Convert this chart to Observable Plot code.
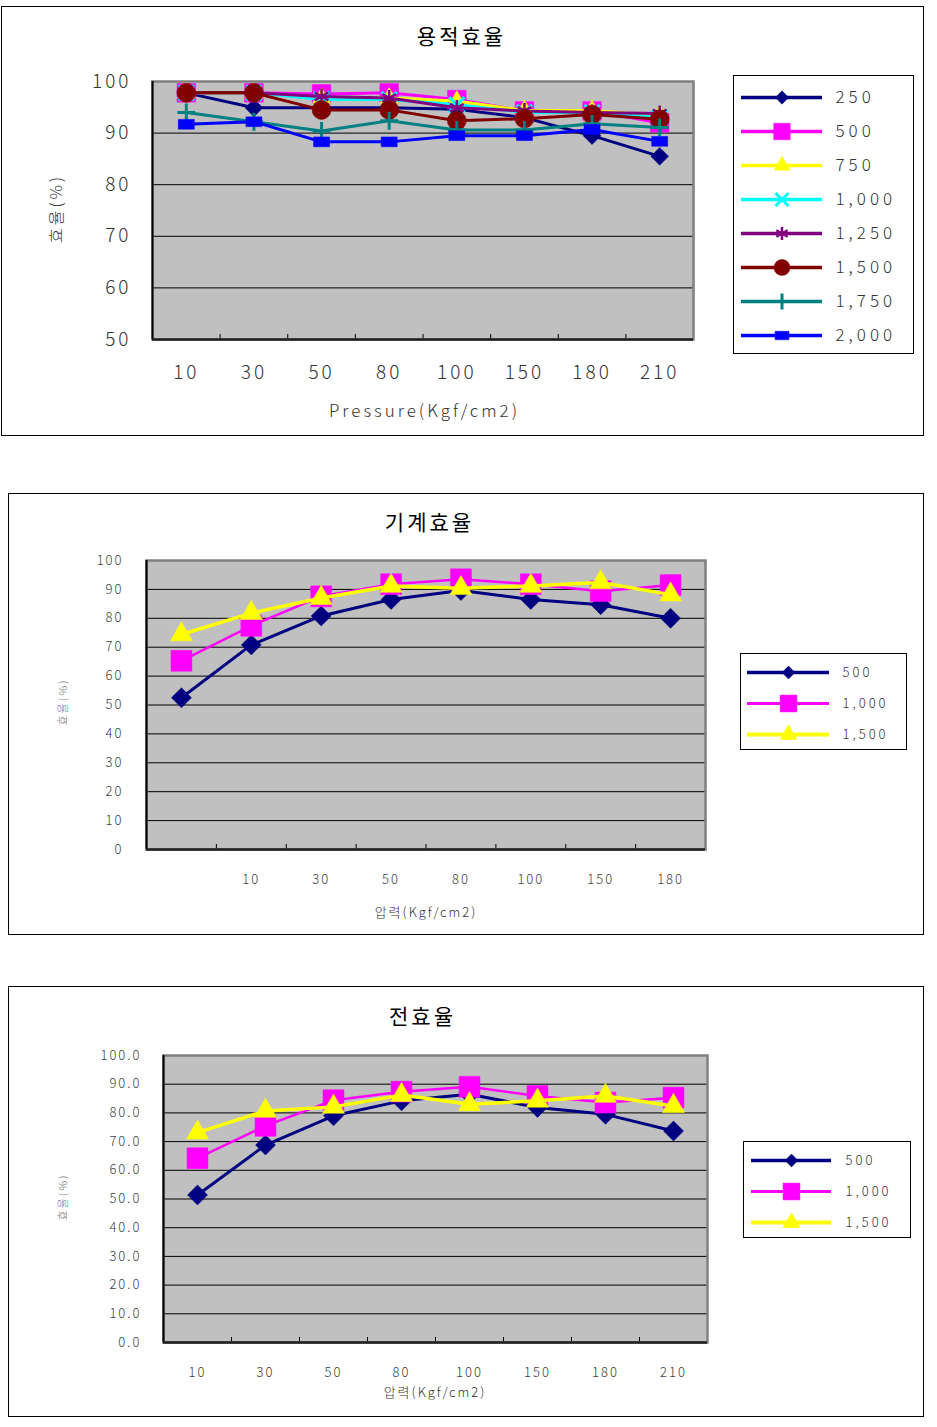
<!DOCTYPE html>
<html>
<head>
<meta charset="utf-8">
<script src="https://cdn.jsdelivr.net/npm/d3@7"></script>
<script src="https://cdn.jsdelivr.net/npm/@observablehq/plot@0.6"></script>
<style>
html,body{margin:0;padding:0;background:#fff;}
body{position:relative;width:937px;height:1427px;overflow:hidden;font-family:"Noto Sans CJK KR","Noto Sans",sans-serif;}
.panel{position:absolute;border:1px solid #000;box-sizing:border-box;}
.lbl{position:absolute;white-space:nowrap;line-height:1;transform:translate(-50%,-57%);font-weight:300;}
.legend{position:absolute;border:1px solid #000;box-sizing:border-box;background:#fff;}
.legend svg{display:block;}
</style>
</head>
<body>
<script>
// ---------------- DATA ----------------
// Chart 1 : 용적효율
const c1Title = "용적효율";
const c1Pressure = ["10", "30", "50", "80", "100", "150", "180", "210"];
const c1Series = ["250", "500", "750", "1,000", "1,250", "1,500", "1,750", "2,000"];
const c1_250  = [97.8, 94.9, 94.9, 94.9, 94.6, 93.0, 89.5, 85.5];
const c1_500  = [97.8, 97.8, 97.6, 97.8, 96.5, 94.3, 94.3, 92.0];
const c1_750  = [97.8, 97.8, 96.8, 96.8, 96.2, 94.4, 94.4, 93.4];
const c1_1000 = [97.8, 97.8, 96.5, 96.5, 95.5, 94.0, 94.0, 93.0];
const c1_1250 = [97.8, 97.8, 97.1, 96.8, 94.9, 94.3, 94.0, 93.8];
const c1_1500 = [97.8, 97.8, 94.5, 94.5, 92.4, 92.8, 93.6, 92.7];
const c1_1750 = [94.0, 92.2, 90.4, 92.4, 90.6, 90.6, 91.8, 91.1];
const c1_2000 = [91.7, 92.2, 88.3, 88.3, 89.5, 89.5, 90.7, 88.4];
const c1YTicks = [50, 60, 70, 80, 90, 100];

// Chart 2 : 기계효율
const c2Title = "기계효율";
const c2Pressure = ["", "10", "30", "50", "80", "100", "150", "180"];
const c2Series = ["500", "1,000", "1,500"];
const c2_500  = [52.5, 70.8, 80.8, 86.5, 89.6, 86.5, 84.7, 80.0];
const c2_1000 = [65.3, 77.4, 87.6, 91.8, 93.5, 91.8, 89.4, 91.5];
const c2_1500 = [74.4, 81.8, 87.0, 91.2, 90.4, 91.2, 92.4, 88.2];
const c2YTicks = [0, 10, 20, 30, 40, 50, 60, 70, 80, 90, 100];

// Chart 3 : 전효율
const c3Title = "전효율";
const c3Pressure = ["10", "30", "50", "80", "100", "150", "180", "210"];
const c3Series = ["500", "1,000", "1,500"];
const c3_500  = [51.4, 68.8, 79.0, 84.2, 86.5, 81.9, 79.5, 73.7];
const c3_1000 = [64.2, 75.5, 84.4, 87.4, 89.1, 85.9, 83.6, 85.3];
const c3_1500 = [73.1, 80.7, 82.1, 86.2, 83.0, 84.2, 85.9, 82.4];
const c3YTicks = [0, 10, 20, 30, 40, 50, 60, 70, 80, 90, 100];

const yLabelText = "효율(%)";
const x1LabelText = "Pressure(Kgf/cm2)";
const x2LabelText = "압력(Kgf/cm2)";

// ---------------- STYLES ----------------
const FONT = '"Noto Sans CJK KR","Noto Sans",sans-serif';
const rectSym = {
  draw(ctx, size) {
    const s = Math.sqrt(size), w = s * 0.62, h = s * 0.38;
    ctx.moveTo(-w, -h); ctx.lineTo(w, -h); ctx.lineTo(w, h); ctx.lineTo(-w, h); ctx.closePath();
  }
};
const c1Styles = [
  {color: "#000080", symbol: "diamond2", filled: true, r: 8, lr: 6, lw: 3},
  {color: "#ff00ff", symbol: "square", filled: true, r: 10.5, lr: 9.3, lw: 3},
  {color: "#ffff00", symbol: "triangle", filled: true, r: 6.7, lr: 6, lw: 3},
  {color: "#00ffff", symbol: "times", filled: false, r: 7, lr: 6, lw: 3, sw: 3},
  {color: "#800080", symbol: "asterisk", filled: false, r: 7.5, lr: 6.2, lw: 3, sw: 2.5},
  {color: "#800000", symbol: "circle", filled: true, r: 9.5, lr: 8, lw: 3},
  {color: "#008080", symbol: "plus", filled: false, r: 5.8, lr: 5.2, lw: 3, sw: 3},
  {color: "#0000ff", symbol: rectSym, filled: true, r: 7.3, lr: 6.3, lw: 3}
];
const c23Styles = [
  {color: "#000080", symbol: "diamond2", filled: true, r: 9, lr: 5.8, lw: 3},
  {color: "#ff00ff", symbol: "square", filled: true, r: 11.8, lr: 9.5, lw: 2.5},
  {color: "#ffff00", symbol: "triangle", filled: true, r: 8.2, lr: 6.3, lw: 3.5}
];

// ---------------- HELPERS ----------------
function place(el, left, top) {
  el.style.position = "absolute";
  el.style.left = left + "px";
  el.style.top = top + "px";
  document.body.appendChild(el);
}
function panel(left, top, width, height) {
  const d = document.createElement("div");
  d.className = "panel";
  d.style.width = width + "px";
  d.style.height = height + "px";
  place(d, left, top);
}
function label(text, cx, cy, size, spacing, color, rotate, weight) {
  const d = document.createElement("div");
  d.className = "lbl";
  d.textContent = text;
  d.style.left = cx + "px";
  d.style.top = cy + "px";
  d.style.fontSize = size + "px";
  d.style.letterSpacing = spacing + "px";
  d.style.paddingLeft = spacing + "px";
  d.style.color = color;
  if (weight) d.style.fontWeight = weight;
  if (rotate) d.style.transform = "translate(-50%,-50%) rotate(-90deg)";
  document.body.appendChild(d);
}
function dotOpts(st, r) {
  return st.filled
    ? {symbol: st.symbol, r, fill: st.color, stroke: st.color, strokeWidth: 0.5}
    : {symbol: st.symbol, r, fill: "none", stroke: st.color, strokeWidth: st.sw};
}

function lineChart(o) {
  const n = o.categories.length;
  const idx = d3.range(n);
  const seps = d3.range(n - 1).map(i => i + 0.5);
  const xDomain = [-0.5, n - 0.5];
  const rows = [];
  o.series.forEach((name, s) => o.values[s].forEach((v, i) => rows.push({name, i, v})));
  const plotH = o.height - o.marginTop - o.marginBottom;
  const marks = [
    Plot.frame({fill: "#c0c0c0"}),
    Plot.gridY({ticks: o.yTicks, stroke: "#000", strokeOpacity: 1, strokeWidth: 1}),
    Plot.ruleX(seps, {x: d => d, insetTop: plotH - 5, stroke: "#000", strokeWidth: 1}),
    Plot.frame({stroke: "#808080", strokeWidth: 2.5}),
    Plot.ruleX([xDomain[0]], {x: d => d, stroke: "#000", strokeWidth: 2}),
    Plot.ruleY([o.yDomain[0]], {y: d => d, stroke: "#202020", strokeWidth: 2.5}),
    Plot.axisY({ticks: o.yTicks, tickFormat: o.yFormat, tickSize: 0, tickPadding: o.yPad, fontSize: o.tickFont, label: null}),
    Plot.axisX({ticks: idx, tickFormat: i => o.categories[i], tickSize: 0, tickPadding: o.xPad, fontSize: o.tickFont, label: null})
  ];
  o.series.forEach((name, s) => {
    const st = o.styles[s];
    const sub = rows.filter(r => r.name === name);
    marks.push(Plot.line(sub, {x: "i", y: "v", stroke: st.color, strokeWidth: st.lw}));
    marks.push(Plot.dot(sub, {x: "i", y: "v", ...dotOpts(st, st.r)}));
  });
  const svg = Plot.plot({
    width: o.width, height: o.height,
    marginLeft: o.marginLeft, marginRight: o.marginRight,
    marginTop: o.marginTop, marginBottom: o.marginBottom,
    x: {domain: xDomain},
    y: {domain: o.yDomain},
    style: {fontFamily: FONT, fontSize: o.tickFont + "px", fontWeight: "300", letterSpacing: o.tickSpacing + "px", background: "transparent", color: o.tickColor, overflow: "visible"},
    marks
  });
  place(svg, o.left, o.top);
}

function legend(o) {
  const box = document.createElement("div");
  box.className = "legend";
  box.style.width = o.boxW + "px";
  box.style.height = o.boxH + "px";
  place(box, o.left, o.top);
  const marks = [];
  o.series.forEach((name, s) => {
    const st = o.styles[s];
    marks.push(Plot.ruleY([name], {y: d => d, x1: 0, x2: 1, stroke: st.color, strokeWidth: st.lw + 0.5}));
    marks.push(Plot.dot([name], {y: d => d, x: 0.5, ...dotOpts(st, st.lr)}));
  });
  marks.push(Plot.text(o.series, {y: d => d, x: 1, text: d => d, dx: o.dx, textAnchor: "start", fontSize: o.font, fill: "#333"}));
  const svg = Plot.plot({
    width: o.boxW - 2, height: o.boxH - 2,
    marginLeft: o.mL, marginRight: o.boxW - 2 - o.xEnd,
    marginTop: o.mT, marginBottom: o.mB,
    x: {domain: [0, 1], axis: null},
    y: {type: "point", domain: o.series, padding: 0, axis: null},
    style: {fontFamily: FONT, fontWeight: "300", letterSpacing: o.spacing + "px", background: "transparent", overflow: "visible"},
    marks
  });
  box.appendChild(svg);
}

// ---------------- PANELS ----------------
panel(1, 6, 923, 430);
panel(8, 493, 916, 442);
panel(8, 986, 916, 431);

// Chart 1
lineChart({
  left: 10, top: 60, width: 700, height: 340,
  marginLeft: 142, marginRight: 17, marginTop: 21, marginBottom: 61,
  categories: c1Pressure, series: c1Series,
  values: [c1_250, c1_500, c1_750, c1_1000, c1_1250, c1_1500, c1_1750, c1_2000],
  styles: c1Styles,
  yDomain: [50, 100], yTicks: c1YTicks, yFormat: d => String(d),
  yPad: 21, xPad: 26, tickFont: 19, tickSpacing: 3, tickColor: "#333"
});
legend({
  left: 733, top: 75, boxW: 181, boxH: 279,
  series: c1Series, styles: c1Styles,
  mL: 7, xEnd: 88, mT: 19, mB: 17, dx: 13, font: 17, spacing: 4
});
label(c1Title, 460, 37, 21, 3, "#000", false, "400");
label(yLabelText, 55, 210, 16, 3, "#333", true);
label(x1LabelText, 423, 411, 17, 3, "#333");

// Chart 2
lineChart({
  left: 20, top: 540, width: 700, height: 360,
  marginLeft: 126, marginRight: 15, marginTop: 20, marginBottom: 51,
  categories: c2Pressure, series: c2Series,
  values: [c2_500, c2_1000, c2_1500],
  styles: c23Styles,
  yDomain: [0, 100], yTicks: c2YTicks, yFormat: d => String(d),
  yPad: 23, xPad: 25.5, tickFont: 13, tickSpacing: 2, tickColor: "#404040"
});
legend({
  left: 740, top: 653, boxW: 167, boxH: 97,
  series: c2Series, styles: c23Styles,
  mL: 6, xEnd: 88, mT: 18, mB: 15, dx: 13, font: 13, spacing: 3
});
label(c2Title, 428, 523, 21, 3, "#000", false, "400");
label(yLabelText, 62, 703, 11, 2, "#777", true);
label(x2LabelText, 425, 912, 13, 2, "#333");

// Chart 3
lineChart({
  left: 20, top: 1035, width: 700, height: 360,
  marginLeft: 143, marginRight: 13, marginTop: 20, marginBottom: 53,
  categories: c3Pressure, series: c3Series,
  values: [c3_500, c3_1000, c3_1500],
  styles: c23Styles,
  yDomain: [0, 100], yTicks: c3YTicks, yFormat: d => d.toFixed(1),
  yPad: 22, xPad: 25.5, tickFont: 13, tickSpacing: 2, tickColor: "#404040"
});
legend({
  left: 743, top: 1141, boxW: 168, boxH: 97,
  series: c3Series, styles: c23Styles,
  mL: 7, xEnd: 87, mT: 17, mB: 15, dx: 14, font: 13, spacing: 3
});
label(c3Title, 421, 1017, 21, 3, "#000", false, "400");
label(yLabelText, 62, 1198, 11, 2, "#777", true);
label(x2LabelText, 434, 1392, 13, 2, "#333");
</script>
</body>
</html>
